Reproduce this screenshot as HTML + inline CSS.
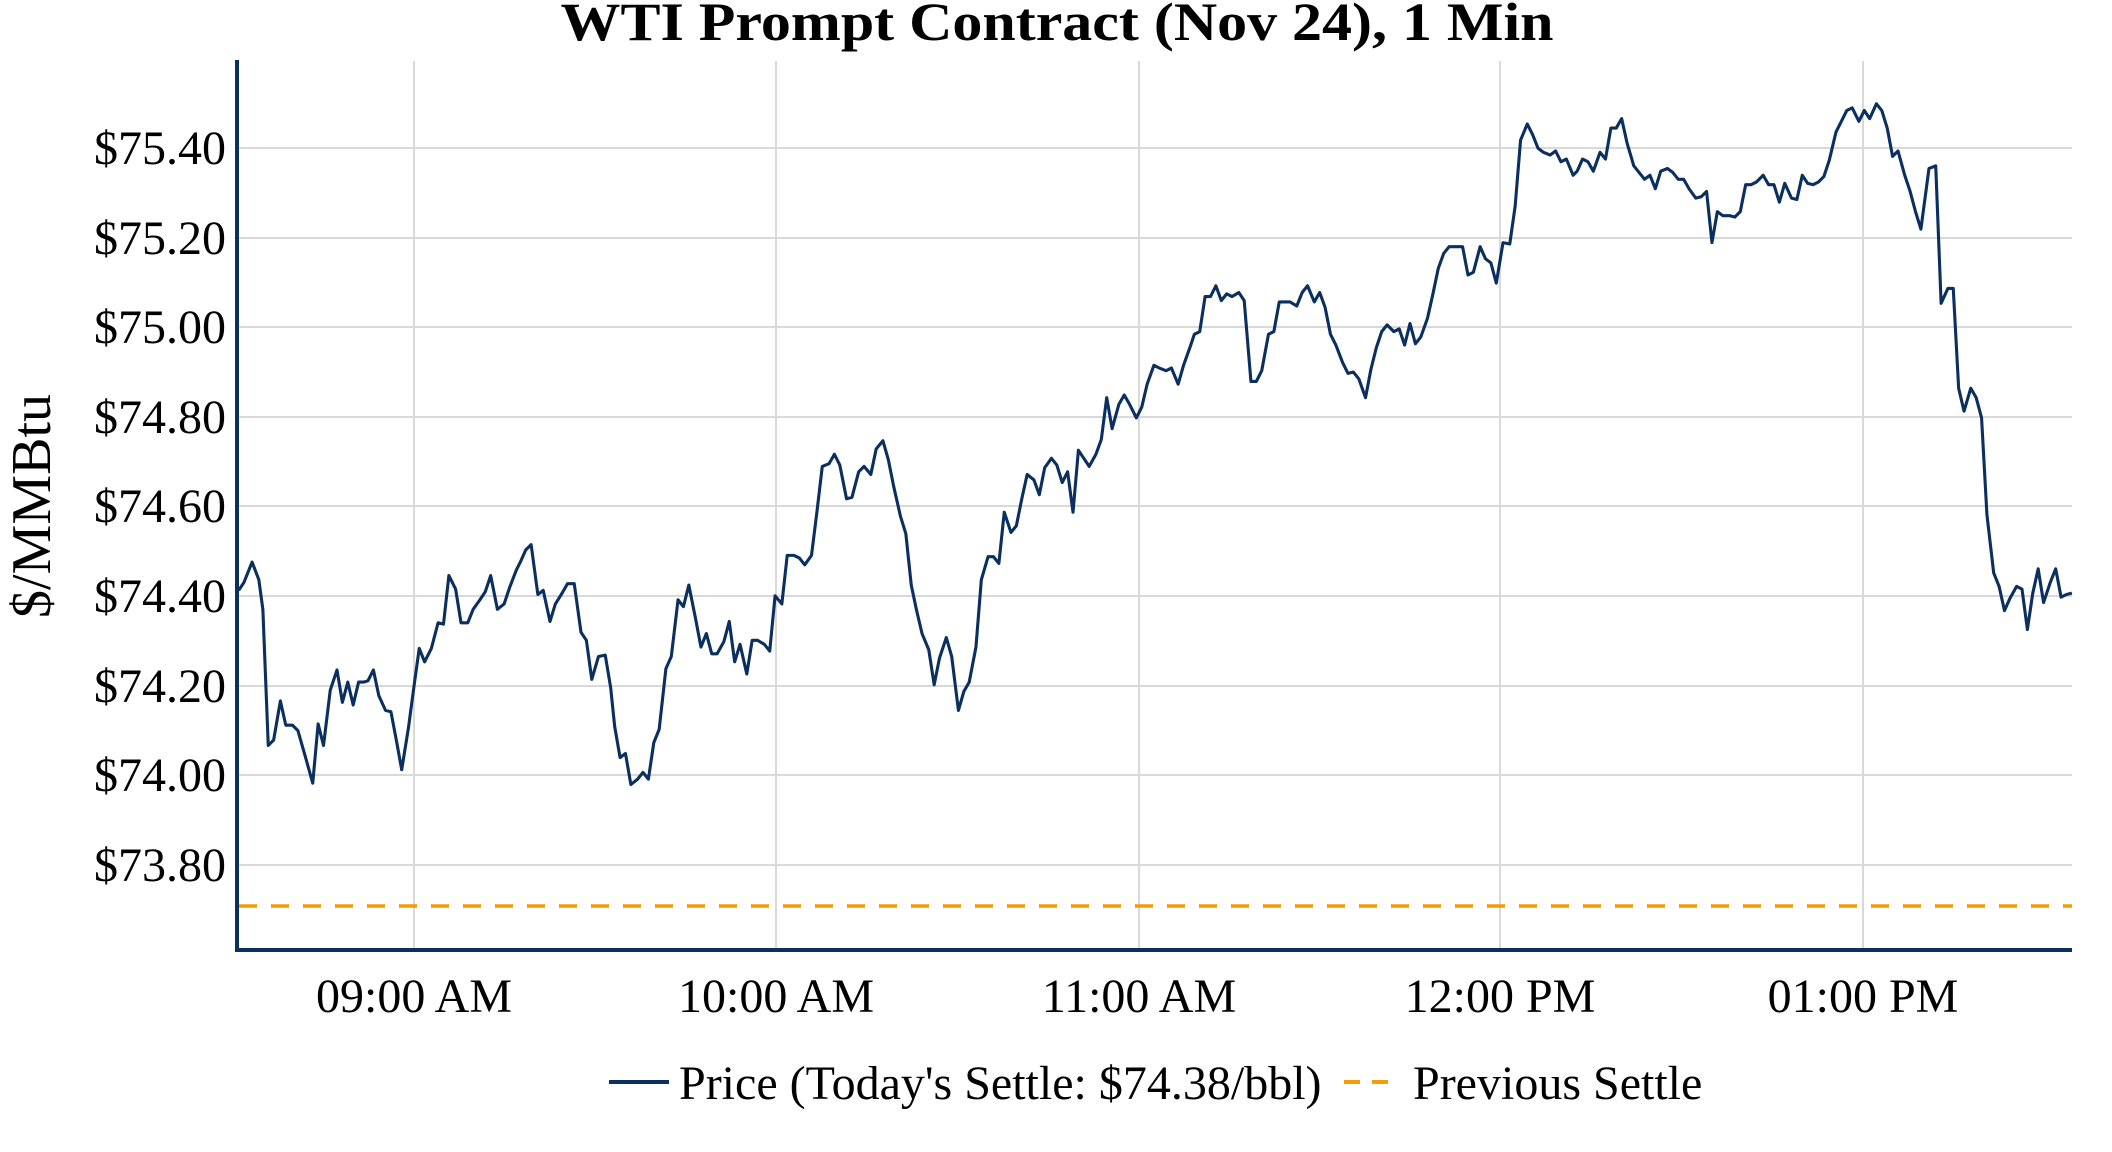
<!DOCTYPE html>
<html><head><meta charset="utf-8"><style>html,body{margin:0;padding:0;background:#fff}svg{display:block}</style></head>
<body>
<svg width="2112" height="1152" viewBox="0 0 2112 1152" xmlns="http://www.w3.org/2000/svg" font-family="'Liberation Serif', serif">
<rect width="2112" height="1152" fill="#fff"/>
<g stroke="#d9d9d9" stroke-width="2">
<line x1="237" y1="148" x2="2072" y2="148"/>
<line x1="237" y1="238" x2="2072" y2="238"/>
<line x1="237" y1="327" x2="2072" y2="327"/>
<line x1="237" y1="417" x2="2072" y2="417"/>
<line x1="237" y1="506" x2="2072" y2="506"/>
<line x1="237" y1="596" x2="2072" y2="596"/>
<line x1="237" y1="686" x2="2072" y2="686"/>
<line x1="237" y1="775" x2="2072" y2="775"/>
<line x1="237" y1="865" x2="2072" y2="865"/>
<line x1="414" y1="61" x2="414" y2="950"/>
<line x1="776" y1="61" x2="776" y2="950"/>
<line x1="1139" y1="61" x2="1139" y2="950"/>
<line x1="1500" y1="61" x2="1500" y2="950"/>
<line x1="1863" y1="61" x2="1863" y2="950"/>
</g>
<line x1="239" y1="906" x2="2072" y2="906" stroke="#f59c00" stroke-width="3.5" stroke-dasharray="18,14"/>
<g transform="scale(1.348)">
<polyline fill="none" stroke="#0b2f5e" stroke-width="2.3" stroke-linejoin="round" points="177,438 181,432 187,417 192,430 195,452 199,553 203,549 208,520 212,538 217,538 221,542 227,563 232,581 236,537 240,553 245,512 250,497 254,521 258,506 262,523 266,506 270,506 273,505 277,497 281,516 286,527 290,528 294,549 298,571 303,540 307,510 311,481 315,491 320,481 325,462 329,463 333,427 338,437 342,462 347,462 351,452 356,445 360,439 364,427 369,452 374,448 378,436 383,423 386,417 390,408 394,404 399,441 403,438 408,461 412,448 417,440 421,433 426,433 431,469 435,475 439,504 444,487 449,486 453,510 456,539 460,562 464,559 468,582 473,578 477,573 481,578 485,551 489,541 494,496 498,487 503,445 507,450 511,434 516,459 520,480 524,470 528,485 532,485 537,476 541,461 545,491 549,478 554,500 558,475 562,475 567,478 571,483 575,442 580,448 584,412 589,412 593,414 597,419 602,412 606,380 610,346 615,344 619,337 623,345 628,370 632,369 637,350 641,346 646,352 650,333 655,327 659,341 663,361 668,383 672,396 676,434 680,453 684,470 689,482 693,508 697,488 702,473 706,487 711,527 715,513 719,506 724,480 728,430 733,413 737,413 741,418 745,380 750,395 754,390 758,370 762,352 767,356 771,367 775,347 780,340 784,345 788,358 792,350 796,380 800,334 804,340 808,346 813,337 817,326 821,295 825,318 830,300 834,293 838,300 843,310 847,302 851,285 856,271 860,273 865,275 869,273 874,285 878,271 883,257 886,248 890,246 894,220 898,220 902,212 906,223 910,218 914,220 919,217 923,223 928,283 932,283 936,275 941,248 945,246 949,224 953,224 957,224 962,227 966,217 970,212 975,224 979,217 983,228 987,248 991,256 996,269 1000,277 1004,276 1008,281 1013,295 1017,274 1021,258 1025,246 1029,241 1034,246 1038,244 1042,256 1046,240 1050,255 1054,250 1059,236 1063,218 1067,199 1071,188 1075,183 1080,183 1085,183 1089,204 1093,202 1098,183 1102,192 1106,195 1110,210 1115,180 1120,181 1124,153 1128,104 1133,92 1137,100 1141,110 1145,113 1150,115 1154,112 1158,120 1162,118 1167,130 1170,127 1174,118 1178,120 1182,127 1187,113 1191,118 1195,95 1199,95 1203,88 1207,106 1212,123 1216,128 1220,133 1224,130 1228,140 1232,127 1237,125 1241,128 1245,133 1249,133 1253,140 1258,147 1262,146 1266,142 1270,180 1274,157 1278,160 1283,160 1287,161 1291,157 1295,137 1299,137 1303,135 1308,130 1312,137 1316,137 1320,150 1324,136 1329,147 1333,148 1337,130 1341,136 1345,137 1349,135 1353,131 1357,119 1362,98 1366,90 1370,82 1374,80 1379,90 1383,82 1387,88 1392,77 1396,82 1400,95 1404,116 1408,112 1413,130 1417,142 1421,157 1425,170 1431,125 1436,123 1440,225 1445,214 1449,214 1453,288 1457,305 1462,288 1466,295 1470,310 1474,382 1479,425 1483,435 1487,453 1491,444 1496,435 1500,437 1504,467 1508,440 1512,422 1516,447 1521,432 1525,422 1529,443 1533,441 1537,440"/>
</g>
<g stroke="#0b2f5e" stroke-width="4">
<line x1="237" y1="60" x2="237" y2="952"/>
<line x1="235" y1="950" x2="2072" y2="950"/>
</g>
<text x="1057" y="40" text-anchor="middle" font-size="54" font-weight="bold" textLength="993" lengthAdjust="spacingAndGlyphs">WTI Prompt Contract (Nov 24), 1 Min</text>
<g font-size="48" text-anchor="end" fill="#000">
<text x="226" y="164">$75.40</text>
<text x="226" y="254">$75.20</text>
<text x="226" y="343">$75.00</text>
<text x="226" y="433">$74.80</text>
<text x="226" y="522">$74.60</text>
<text x="226" y="612">$74.40</text>
<text x="226" y="702">$74.20</text>
<text x="226" y="791">$74.00</text>
<text x="226" y="881">$73.80</text>
</g>
<g font-size="48" text-anchor="middle">
<text x="414" y="1012">09:00 AM</text>
<text x="776" y="1012">10:00 AM</text>
<text x="1139" y="1012">11:00 AM</text>
<text x="1500" y="1012">12:00 PM</text>
<text x="1863" y="1012">01:00 PM</text>
</g>
<text transform="translate(50,506) rotate(-90)" text-anchor="middle" font-size="56">$/MMBtu</text>
<line x1="609" y1="1082" x2="669" y2="1082" stroke="#0b2f5e" stroke-width="4"/>
<text x="679" y="1099" font-size="48">Price (Today's Settle: $74.38/bbl)</text>
<line x1="1344" y1="1082" x2="1398" y2="1082" stroke="#f59c00" stroke-width="4" stroke-dasharray="16,12"/>
<text x="1413" y="1099" font-size="48">Previous Settle</text>
</svg>
</body></html>
